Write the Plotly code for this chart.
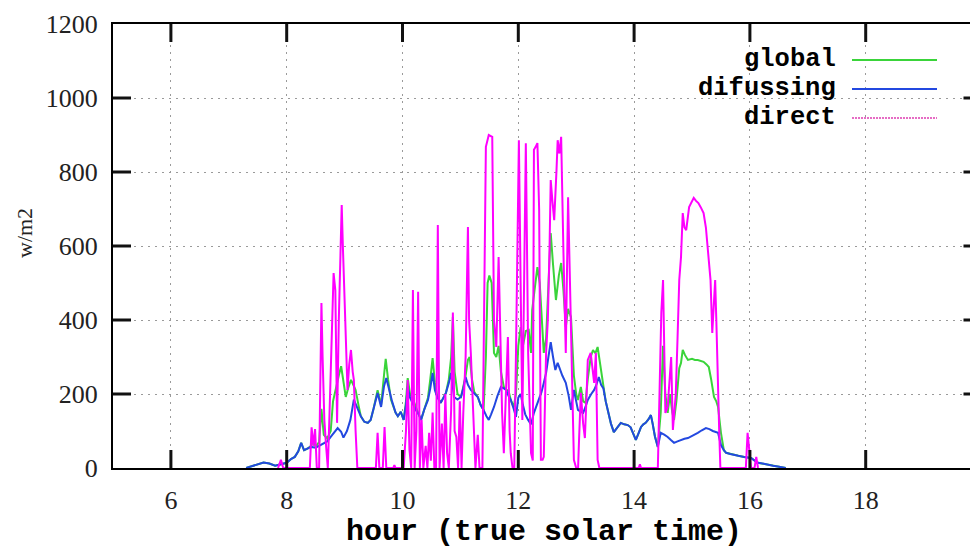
import plotly.graph_objects as go

# ---- measured irradiance (true solar time, hours) ----
diffuse_hours = [7.30, 7.40, 7.50, 7.60, 7.70, 7.80, 7.90, 8.00, 8.08, 8.14, 8.20, 8.25, 8.30, 8.36, 8.42,
                 8.50, 8.56, 8.64, 8.70, 8.76, 8.82, 8.88, 8.94, 8.98, 9.04, 9.10, 9.16, 9.22, 9.28, 9.34,
                 9.40, 9.45, 9.50, 9.57, 9.63, 9.68, 9.72, 9.77, 9.82, 9.88, 9.92, 9.97, 10.02, 10.06, 10.09,
                 10.13, 10.17, 10.23, 10.28, 10.32, 10.38, 10.44, 10.48, 10.52, 10.56, 10.60, 10.66, 10.71,
                 10.75, 10.80, 10.84, 10.89, 10.95, 11.01, 11.05, 11.09, 11.13, 11.18, 11.24, 11.30, 11.35,
                 11.40, 11.45, 11.49, 11.53, 11.58, 11.64, 11.70, 11.75, 11.79, 11.83, 11.87, 11.92, 11.96,
                 12.00, 12.04, 12.08, 12.12, 12.17, 12.22, 12.27, 12.31, 12.36, 12.40, 12.44, 12.48, 12.52,
                 12.56, 12.60, 12.64, 12.68, 12.72, 12.76, 12.82, 12.87, 12.91, 12.96, 13.00, 13.03, 13.08,
                 13.12, 13.16, 13.20, 13.26, 13.31, 13.35, 13.39, 13.43, 13.47, 13.51, 13.55, 13.60, 13.65,
                 13.71, 13.77, 13.83, 13.89, 13.94, 13.99, 14.03, 14.08, 14.12, 14.16, 14.20, 14.25, 14.29,
                 14.32, 14.36, 14.41, 14.46, 14.52, 14.58, 14.64, 14.69, 14.75, 14.81, 14.87, 14.93, 15.00,
                 15.05, 15.10, 15.17, 15.24, 15.30, 15.36, 15.45, 15.50, 15.55, 15.59, 15.66, 15.73, 15.80,
                 15.90, 16.02, 16.08, 16.14, 16.22, 16.31, 16.40, 16.48, 16.55, 16.62]
diffuse_wm2 = [0, 5, 10, 15, 12, 6, 10, 14, 25, 30, 45, 68, 48, 52, 57,
               55, 60, 68, 72, 84, 95, 108, 98, 82, 100, 130, 185, 160, 140, 125,
               122, 130, 160, 203, 165, 220, 243, 210, 180, 150, 140, 152, 130, 170, 219,
               190, 176, 157, 145, 130, 160, 184, 215, 257, 210, 192, 176, 190,
               203, 230, 257, 192, 185, 192, 215, 246, 225, 211, 200, 192, 170,
               157, 140, 130, 145, 165, 195, 219, 215, 211, 195, 184, 160, 138,
               190, 200, 170, 145, 130, 118, 149, 165, 185, 205, 230, 257, 300,
               340, 300, 265, 284, 265, 250, 230, 195, 157, 211, 180, 157, 152,
               149, 165, 184, 200, 211, 225, 246, 225, 215, 180, 149, 120, 97,
               110, 122, 118, 116, 110, 90, 76, 95, 111, 118, 122, 132, 143,
               120, 85, 57, 95, 90, 84, 75, 68, 72, 76, 79, 81, 86,
               90, 95, 102, 108, 105, 100, 95, 62, 48, 41, 38, 35, 33,
               30, 27, 20, 14, 12, 8, 6, 4, 2, 0]

global_hours = [7.30, 7.40, 7.50, 7.60, 7.70, 7.80, 7.90, 8.00, 8.08, 8.14, 8.20, 8.25, 8.30, 8.36, 8.42,
                8.46, 8.50, 8.56, 8.60, 8.64, 8.70, 8.76, 8.80, 8.85, 8.90, 8.94, 8.98, 9.02, 9.06, 9.11,
                9.15, 9.19, 9.24, 9.28, 9.34, 9.40, 9.45, 9.50, 9.57, 9.63, 9.68, 9.71, 9.75, 9.80, 9.88,
                9.92, 9.97, 10.02, 10.06, 10.09, 10.13, 10.17, 10.23, 10.28, 10.32, 10.38, 10.44, 10.48,
                10.52, 10.56, 10.60, 10.66, 10.71, 10.75, 10.80, 10.84, 10.87, 10.90, 10.95, 11.01, 11.05,
                11.09, 11.13, 11.16, 11.20, 11.24, 11.30, 11.35, 11.40, 11.44, 11.47, 11.50, 11.54, 11.58,
                11.62, 11.66, 11.70, 11.75, 11.79, 11.83, 11.87, 11.92, 11.96, 12.00, 12.04, 12.08, 12.13,
                12.18, 12.22, 12.24, 12.28, 12.33, 12.37, 12.41, 12.44, 12.48, 12.52, 12.56, 12.60, 12.65,
                12.70, 12.74, 12.78, 12.82, 12.86, 12.91, 12.96, 13.00, 13.03, 13.08, 13.12, 13.16, 13.20,
                13.25, 13.29, 13.33, 13.37, 13.43, 13.48, 13.51, 13.55, 13.60, 13.65, 13.71, 13.77, 13.83,
                13.89, 13.94, 13.99, 14.03, 14.08, 14.12, 14.16, 14.20, 14.25, 14.29, 14.32, 14.36, 14.41,
                14.46, 14.50, 14.54, 14.58, 14.62, 14.66, 14.69, 14.73, 14.78, 14.81, 14.84, 14.88, 14.93,
                15.00, 15.05, 15.10, 15.15, 15.20, 15.25, 15.29, 15.33, 15.38, 15.42, 15.45, 15.50, 15.55,
                15.59, 15.66, 15.73, 15.80, 15.90, 16.02, 16.14, 16.31, 16.48, 16.62]
global_wm2 = [0, 5, 10, 15, 12, 6, 10, 14, 25, 30, 45, 68, 48, 52, 60,
              75, 58, 70, 160, 90, 80, 100, 180, 211, 250, 275, 230, 192, 215, 238,
              225, 211, 170, 140, 125, 122, 130, 160, 210, 170, 250, 295, 240, 185, 150,
              140, 152, 130, 180, 243, 200, 190, 165, 145, 130, 160, 190, 240,
              297, 230, 195, 176, 190, 203, 240, 300, 408, 260, 200, 192, 220,
              250, 292, 300, 240, 205, 192, 170, 157, 300, 500, 520, 500, 311,
              300, 330, 260, 219, 211, 210, 184, 165, 200, 330, 381, 330, 370,
              373, 311, 427, 480, 543, 500, 400, 311, 350, 500, 635, 550, 454,
              520, 554, 480, 381, 430, 408, 250, 200, 184, 219, 180, 176, 240,
              300, 319, 310, 327, 257, 211, 180, 149, 120, 97, 110, 122, 118,
              116, 110, 90, 76, 95, 111, 118, 122, 132, 143, 120, 85, 57,
              150, 330, 200, 149, 200, 150, 130, 180, 270, 284, 319, 305, 292,
              295, 292, 292, 290, 287, 280, 273, 240, 192, 180, 165, 95, 48,
              41, 38, 35, 33, 30, 27, 14, 8, 4, 0]

direct_hours = [7.85, 7.90, 7.94, 8.40, 8.43, 8.46, 8.49, 8.52, 8.56, 8.58, 8.60, 8.62, 8.65, 8.68,
                8.71, 8.74, 8.78, 8.81, 8.84, 8.87, 8.90, 8.93, 8.95, 8.97, 8.99, 9.02, 9.05, 9.08,
                9.11, 9.14, 9.16, 9.19, 9.22, 9.54, 9.57, 9.60, 9.66, 9.69, 9.72, 9.84, 9.86, 9.88,
                10.02, 10.06, 10.09, 10.12, 10.15, 10.18, 10.21, 10.24, 10.27, 10.30,
                10.33, 10.36, 10.40, 10.43, 10.46, 10.49, 10.52, 10.55, 10.58, 10.61, 10.64,
                10.68, 10.71, 10.74, 10.77, 10.80, 10.84, 10.87, 10.90, 10.93, 10.96, 10.99,
                11.02, 11.05, 11.09, 11.13, 11.15, 11.18, 11.22, 11.26, 11.30, 11.33, 11.38, 11.41, 11.44,
                11.49, 11.55, 11.58, 11.62, 11.66, 11.69, 11.72, 11.75, 11.79, 11.82, 11.85, 11.87,
                11.90, 11.93, 11.96, 11.99, 12.01, 12.04, 12.07, 12.10, 12.13, 12.15, 12.17, 12.20,
                12.22, 12.25, 12.27, 12.30, 12.33, 12.36, 12.39, 12.42, 12.44, 12.48, 12.51, 12.54,
                12.56, 12.59, 12.62, 12.66, 12.68, 12.71, 12.74, 12.78, 12.82, 12.86, 12.88, 12.91,
                12.94, 12.96, 13.00, 13.03, 13.05, 13.08, 13.12, 13.15, 13.18, 13.20, 13.25, 13.28,
                13.31, 13.34, 13.36, 13.37, 13.40, 14.08, 14.10, 14.12, 14.41, 14.44, 14.47, 14.50,
                14.52, 14.54, 14.58, 14.61, 14.64, 14.67, 14.70, 14.72, 14.75, 14.78, 14.81, 14.84,
                14.87, 14.90, 14.95, 15.00, 15.03, 15.07, 15.11, 15.15, 15.20, 15.24, 15.27, 15.32,
                15.35, 15.38, 15.40, 15.42, 15.44, 15.47, 15.49, 15.93, 15.96, 15.99, 16.02, 16.08,
                16.11, 16.14]
direct_wm2 = [0, 22, 0, 0, 110, 60, 105, 0, 0, 300, 446, 300, 130, 60,
              0, 150, 350, 527, 480, 122, 400, 650, 711, 600, 500, 300, 211, 280,
              319, 260, 238, 100, 0, 0, 95, 0, 0, 111, 0, 0, 8, 0,
              0, 100, 238, 50, 0, 481, 0, 100, 476, 0,
              130, 0, 60, 0, 95, 20, 150, 0, 0, 657, 0,
              120, 0, 200, 40, 0, 157, 420, 100, 84, 0, 180,
              0, 150, 300, 651, 400, 311, 150, 0, 90, 0, 0, 500, 868,
              900, 895, 400, 327, 570, 346, 150, 40, 200, 354, 100, 40,
              0, 0, 311, 700, 886, 500, 130, 500, 878, 600, 311, 150,
              40, 20, 860, 868, 878, 700, 22, 22, 30, 311, 400, 600,
              778, 720, 670, 805, 886, 850, 895, 581, 311, 732, 600, 400,
              150, 22, 0, -12, 80, 203, 120, 81, 200, 292, 311, 260,
              230, 311, 150, 22, 0, 0, 10, 0, 0, 200, 420, 508,
              300, 149, 165, 250, 300, 103, 150, 200, 350, 508, 570, 689,
              650, 643, 705, 720, 730, 722, 716, 705, 689, 650, 597, 508,
              365, 450, 508, 400, 238, 100, 0, 0, 95, 40, 0, 0,
              30, 0]

x_ticks = [6, 8, 10, 12, 14, 16, 18]
y_ticks = [0, 200, 400, 600, 800, 1000, 1200]
Y_MAX = 1200

# ---- page geometry (px) ----
W, H = 970, 550
M_L, M_R, M_T, M_B = 113, 0, 24, 82
PX_PER_HOUR = 57.9
X_MIN = 5
X_MAX = X_MIN + (W - M_L - M_R) / PX_PER_HOUR
X_BORDER = 20                      # right-hand border of the frame, just past the page edge
PLOT_W = W - M_L - M_R
PLOT_H = H - M_T - M_B
TICK_PX = 18
TICK_X = TICK_PX / PX_PER_HOUR     # tick length in hours
TICK_Y = TICK_PX * Y_MAX / PLOT_H  # tick length in w/m2

GREEN = "#3ad43a"
BLUE = "#2348e0"
MAGENTA = "#ff00ff"

fig = go.Figure()
fig.add_trace(go.Scatter(x=global_hours, y=global_wm2, mode="lines", name="global",
                         line=dict(color=GREEN, width=2)))
fig.add_trace(go.Scatter(x=diffuse_hours, y=diffuse_wm2, mode="lines", name="difussing",
                         line=dict(color=BLUE, width=2)))
fig.add_trace(go.Scatter(x=direct_hours, y=direct_wm2, mode="lines", name="direct",
                         line=dict(color=MAGENTA, width=2)))

# inward tick marks on all four sides of the frame: one short segment per tick
tick_style = dict(color="#111111", width=3)
for v in x_ticks:
    fig.add_trace(go.Scatter(x=[v, v], y=[0, TICK_Y], mode="lines", line=tick_style,
                             hoverinfo="skip", showlegend=False))
    fig.add_trace(go.Scatter(x=[v, v], y=[Y_MAX - TICK_Y, Y_MAX], mode="lines", line=tick_style,
                             hoverinfo="skip", showlegend=False))
for v in y_ticks[1:-1]:
    fig.add_trace(go.Scatter(x=[X_MIN, X_MIN + TICK_X], y=[v, v], mode="lines", line=tick_style,
                             hoverinfo="skip", showlegend=False))
    fig.add_trace(go.Scatter(x=[X_BORDER - TICK_X, X_BORDER], y=[v, v], mode="lines",
                             line=tick_style, hoverinfo="skip", showlegend=False))

axis_common = dict(
    showline=True, linecolor="black", linewidth=2,
    ticks="", showgrid=True, gridcolor="#9a9a9a", gridwidth=1, griddash="2px,5px",
    zeroline=False,
    tickfont=dict(family="Liberation Serif", size=26, color="#222"),
)

fig.update_xaxes(range=[X_MIN, X_MAX], tickvals=x_ticks, mirror=True,
                 ticklabelstandoff=8, **axis_common)
fig.update_yaxes(range=[0, Y_MAX], tickvals=y_ticks, mirror=False,
                 ticklabelstandoff=8, **axis_common)

mono = dict(family="Liberation Mono", size=25.5, color="black", weight="bold")

# legend: right-aligned labels followed by line samples
legend_rows = [("global", GREEN, 60), ("difussing", BLUE, 89), ("direct", "#e66cc4", 118)]
for label, color, py in legend_rows:
    yp = (H - M_B - py) / PLOT_H
    fig.add_annotation(x=(838 - M_L) / PLOT_W, y=yp, xref="paper", yref="paper",
                       text=label, showarrow=False, xanchor="right", yanchor="middle",
                       font=mono)
    fig.add_shape(type="line", xref="paper", yref="paper",
                  x0=(852 - M_L) / PLOT_W, x1=(937 - M_L) / PLOT_W, y0=yp, y1=yp,
                  line=dict(color=color, width=2,
                            dash="2px,1px" if label == "direct" else "solid"))

fig.add_annotation(x=(544 - M_L) / PLOT_W, y=(H - M_B - 532) / PLOT_H, xref="paper", yref="paper",
                   text="hour (true solar time)", showarrow=False,
                   xanchor="center", yanchor="middle", font=dict(mono, size=30))
fig.add_annotation(x=(25 - M_L) / PLOT_W, y=(H - M_B - 233) / PLOT_H, xref="paper", yref="paper",
                   text="w/m2", textangle=-90, showarrow=False,
                   xanchor="center", yanchor="middle",
                   font=dict(family="Liberation Serif", size=22, color="#222"))

fig.update_layout(
    width=W, height=H,
    margin=dict(l=M_L, r=M_R, t=M_T, b=M_B, pad=0),
    paper_bgcolor="white", plot_bgcolor="white",
    showlegend=False,
)

fig.write_html("out.html")
